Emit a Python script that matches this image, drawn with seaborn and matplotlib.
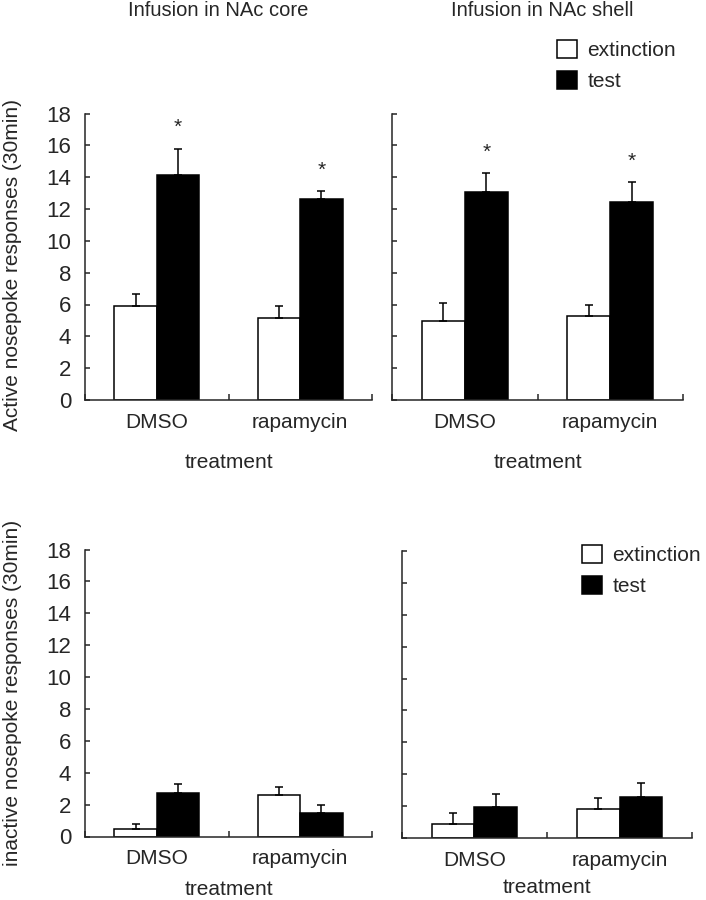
import numpy as np
import pandas as pd
import matplotlib
matplotlib.use("Agg")
import matplotlib.pyplot as plt
import seaborn as sns

treatments = ["DMSO", "rapamycin"]
phases = ["extinction", "test"]

# values (mean, upper SEM bar)
active_core_mean = {"extinction": [5.9, 5.15], "test": [14.15, 12.6]}
active_core_err = {"extinction": [0.75, 0.75], "test": [1.65, 0.5]}
active_shell_mean = {"extinction": [4.95, 5.25], "test": [13.05, 12.45]}
active_shell_err = {"extinction": [1.15, 0.7], "test": [1.2, 1.25]}
inactive_core_mean = {"extinction": [0.5, 2.6], "test": [2.7, 1.45]}
inactive_core_err = {"extinction": [0.3, 0.5], "test": [0.6, 0.5]}
inactive_shell_mean = {"extinction": [0.85, 1.8], "test": [1.95, 2.55]}
inactive_shell_err = {"extinction": [0.7, 0.7], "test": [0.8, 0.9]}

stars_active_core = [True, True]
stars_active_shell = [True, True]

titles = ["Infusion in NAc core", "Infusion in NAc shell"]
ylab_top = "Active nosepoke responses (30min)"
ylab_bottom = "inactive nosepoke responses (30min)"
yticks = list(range(0, 19, 2))

sns.set_style("ticks")
plt.rcParams["font.family"] = ["Liberation Sans", "DejaVu Sans"]

fig = plt.figure(figsize=(7.06, 9.0), dpi=100)
W, H = 706.0, 900.0


def px_axes(left, right, top, bottom):
    return fig.add_axes([left / W, 1 - bottom / H, (right - left) / W, (bottom - top) / H])


ax_tl = px_axes(85, 372, 113.5, 400)
ax_tr = px_axes(392, 683, 113.5, 400)
ax_bl = px_axes(85, 372, 549.5, 836.5)
ax_br = px_axes(402, 692, 551, 838)


def make_df(mean):
    rows = []
    for ph in phases:
        for t, v in zip(treatments, mean[ph]):
            rows.append({"treatment": t, "phase": ph, "value": v})
    return pd.DataFrame(rows)


def panel(ax, mean, err, ticklabels, stars=None):
    df = make_df(mean)
    sns.barplot(data=df, x="treatment", y="value", hue="phase", order=treatments,
                hue_order=phases, palette={"extinction": "white", "test": "black"},
                edgecolor="black", linewidth=1.1, width=0.59, errorbar=None, ax=ax)
    for ph, cont in zip(phases, ax.containers):
        for i, bar in enumerate(cont):
            xc = bar.get_x() + bar.get_width() / 2
            h = bar.get_height()
            ax.errorbar(xc, h, yerr=[[0], [err[ph][i]]], fmt="none", ecolor="black",
                        elinewidth=1.1, capsize=2.8, capthick=1.1)
            if stars is not None and ph == "test" and stars[i]:
                ax.text(xc, h + err[ph][i] + 1.3, "*", ha="center", va="center", fontsize=15)
    ax.set_xlim(-0.5, 1.5)
    ax.set_ylim(0, 18)
    ax.set_yticks(yticks)
    ax.set_xticks([0, 1])
    ax.set_xticks([-0.5, 0.5, 1.5], minor=True)
    ax.tick_params(axis="x", which="major", length=0, labelsize=15, pad=9)
    ax.tick_params(axis="x", which="minor", direction="in", length=4, width=1.1)
    ax.tick_params(axis="y", direction="in", length=3.5, width=1.1, labelsize=16, pad=10)
    if not ticklabels:
        ax.set_yticklabels([])
    for s in ["left", "bottom"]:
        ax.spines[s].set_linewidth(1.1)
    sns.despine(ax=ax)
    ax.set_xlabel("treatment", fontsize=15, labelpad=15.5)
    ax.set_ylabel("")
    ax.get_legend().remove()


panel(ax_tl, active_core_mean, active_core_err, True, stars_active_core)
panel(ax_tr, active_shell_mean, active_shell_err, False, stars_active_shell)
panel(ax_bl, inactive_core_mean, inactive_core_err, True)
panel(ax_br, inactive_shell_mean, inactive_shell_err, False)

ax_bl.xaxis.labelpad = 8.5
ax_br.xaxis.labelpad = 6

ax_tl.set_ylabel(ylab_top, fontsize=15)
ax_tl.yaxis.set_label_coords(-0.218, 0.47)
ax_bl.set_ylabel(ylab_bottom, fontsize=15)
ax_bl.yaxis.set_label_coords(-0.218, 0.5)

fig.text(218 / W, 1 - 11 / H, titles[0], ha="center", va="center", fontsize=14.5)
fig.text(542 / W, 1 - 11 / H, titles[1], ha="center", va="center", fontsize=14.5)

handles = [plt.Rectangle((0, 0), 1, 1, facecolor=c, edgecolor="black", linewidth=1.1)
           for c in ["white", "black"]]
leg_kw = dict(frameon=False, fontsize=15, handlelength=0.95, handleheight=0.95,
              handletextpad=0.5, labelspacing=0.5, borderaxespad=0, borderpad=0,
              bbox_transform=fig.transFigure, loc="upper left")
ax_tr.legend(handles, phases, bbox_to_anchor=(557 / W, 1 - 40 / H), **leg_kw)
ax_br.legend(handles, phases, bbox_to_anchor=(582 / W, 1 - 545 / H), **leg_kw)

fig.savefig("out.png", dpi=100)
